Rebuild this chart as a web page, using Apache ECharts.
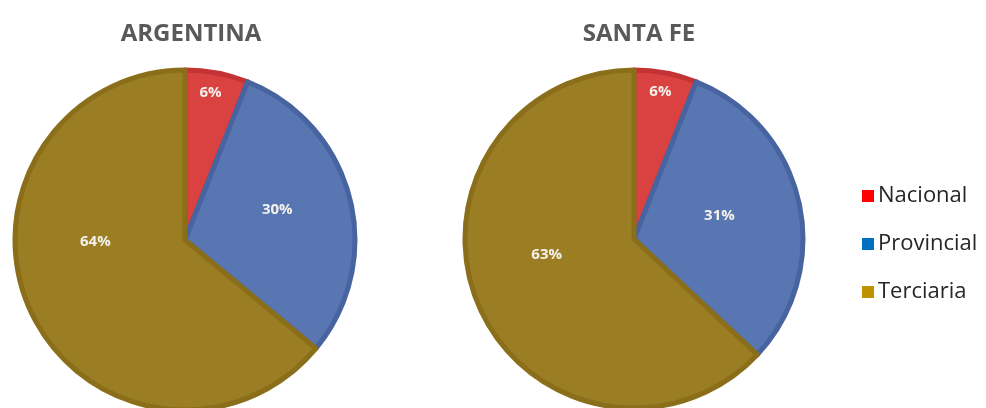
<!DOCTYPE html>
<html>
<head>
<meta charset="utf-8">
<script src="https://cdn.jsdelivr.net/npm/echarts@6/dist/echarts.min.js"></script>
<style>
  html, body { margin: 0; padding: 0; background: #ffffff; }
  #chart { width: 986px; height: 408px; }
</style>
</head>
<body>
<div id="chart"></div>
<script>
// Distribución por jurisdicción
const categories = ['Nacional', 'Provincial', 'Terciaria'];
const argentinaValues = [6, 30, 64];
const santaFeValues = [6, 31, 63];
const regionTitles = ['ARGENTINA', 'SANTA FE'];

const sliceFill = ['#DA4242', '#5876B1', '#9B7D23'];
const sliceBorder = ['#C43333', '#4864A0', '#8A6E19'];
const legendColors = ['#FF0000', '#0070C0', '#BF9000'];

// label nudges (dx, dy) away from the default inside position
const argLabelShift = [[9, -61], [7, -8], [-10, -36]];
const sfLabelShift = [[10, -61], [0, -4], [-7, -19]];

function buildData(values) {
  return values.map((v, i) => ({
    name: categories[i],
    value: v,
    itemStyle: { color: sliceFill[i], borderColor: sliceBorder[i] }
  }));
}

function pieSeries(values, center, radius, shifts) {
  return {
    type: 'pie',
    center: center,
    radius: radius,
    startAngle: 90,
    clockwise: true,
    silent: true,
    itemStyle: { borderWidth: 5 },
    label: {
      position: 'inside',
      formatter: '{c}%',
      color: '#F4F1EA',
      fontFamily: 'Open Sans, sans-serif',
      fontWeight: 'bold',
      fontSize: 15
    },
    labelLine: { show: false },
    labelLayout: function (p) {
      const s = shifts[p.dataIndex];
      return { dx: s[0], dy: s[1] };
    },
    emphasis: { disabled: true },
    data: buildData(values)
  };
}

const titleStyle = { fontFamily: 'Open Sans, sans-serif', fontWeight: 'bold', fontSize: 24, color: '#595959' };

const chart = echarts.init(document.getElementById('chart'), null, { renderer: 'canvas' });
chart.setOption({
  animation: false,
  backgroundColor: '#ffffff',
  title: [
    { text: regionTitles[0], left: 186, top: 17, textAlign: 'center', textStyle: titleStyle },
    { text: regionTitles[1], left: 634, top: 17, textAlign: 'center', textStyle: titleStyle }
  ],
  legend: {
    orient: 'vertical',
    left: 857,
    top: 180,
    icon: 'rect',
    itemWidth: 12,
    itemHeight: 12,
    itemGap: 26,
    selectedMode: false,
    textStyle: { fontFamily: 'Open Sans, sans-serif', fontSize: 22, color: '#262626', padding: [0, 0, 0, -1] },
    data: categories.map((c, i) => ({ name: c, itemStyle: { color: legendColors[i], borderWidth: 0 } }))
  },
  series: [
    pieSeries(argentinaValues, [185, 240], 170, argLabelShift),
    pieSeries(santaFeValues, [634, 239], 169, sfLabelShift)
  ]
});
</script>
</body>
</html>
